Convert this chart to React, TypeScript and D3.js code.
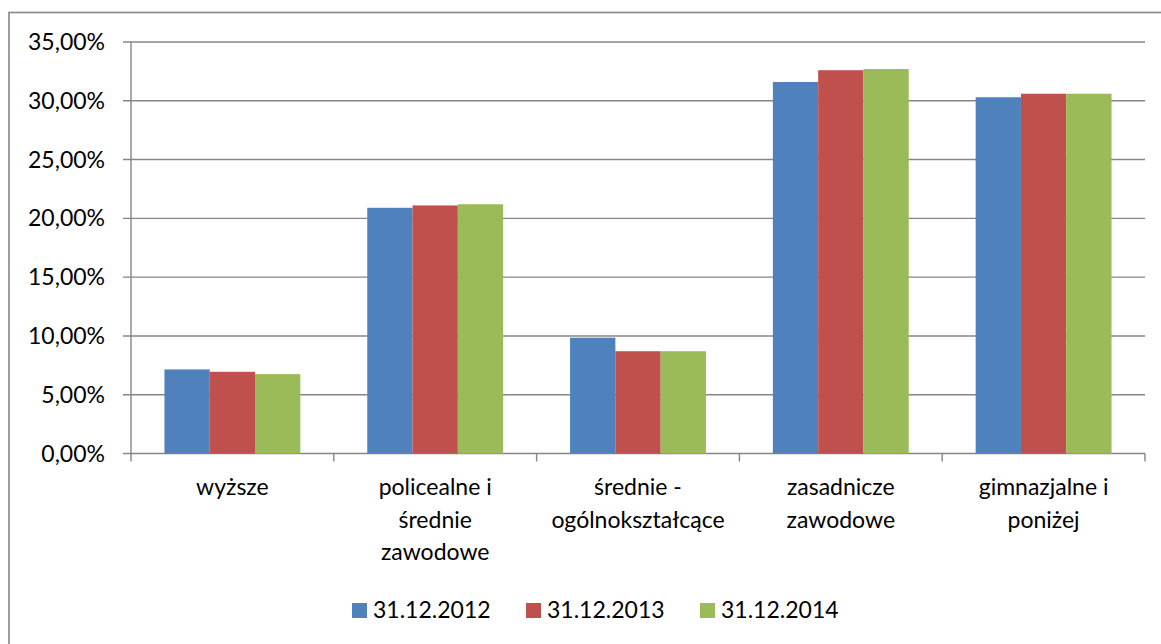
import React from 'react';
import * as d3 from 'd3';

const categories = ['wyższe', 'policealne i\nśrednie\nzawodowe', 'średnie -\nogólnokształcące', 'zasadnicze\nzawodowe', 'gimnazjalne i\nponiżej'];
const seriesNames = ['31.12.2012', '31.12.2013', '31.12.2014'];
const v2012 = [7.15, 20.9, 9.85, 31.6, 30.3];
const v2013 = [6.95, 21.1, 8.7, 32.6, 30.6];
const v2014 = [6.75, 21.2, 8.7, 32.7, 30.6];
const yTicks = [0, 5, 10, 15, 20, 25, 30, 35];
const colors = ['#4f81bd', '#c0504d', '#9bbb59'];

const W = 1161;
const H = 644;
const left = 131, right = 1145, top = 42, bottom = 453.5;
const font = 'Lato, "Open Sans", sans-serif';
const grey = '#868686';

const App = () => {
    const series = [v2012, v2013, v2014];
    const x = d3.scaleBand().domain(categories).range([left, right]);
    const bw = x.bandwidth();
    const pad = bw * 0.165;
    const xs = d3.scaleBand().domain(seriesNames).range([pad, bw - pad]);
    const y = d3.scaleLinear().domain([0, 35]).range([bottom, top]);
    const fmt = (d: number) => d.toFixed(2).replace('.', ',') + '%';

    return (
        <svg width={W} height={H} style={{ position: 'absolute', left: 0, top: 0 }} fontFamily={font}>
            <rect x={0} y={0} width={W} height={H} fill="#fff" />
            {/* outer chart border, cut off at right and bottom */}
            <rect x={9} y={12.5} width={W + 20} height={H + 20} fill="none" stroke={grey} strokeWidth={1.6} />
            {/* gridlines + y ticks */}
            {yTicks.map(t => (
                <g key={t}>
                    <line x1={left - 8} x2={right} y1={y(t)} y2={y(t)} stroke={grey} strokeWidth={1.4} />
                    <text x={105} y={y(t)} dy="0.35em" textAnchor="end" fontSize={23} fill="#000">{fmt(t)}</text>
                </g>
            ))}
            <line x1={left} x2={left} y1={top} y2={bottom} stroke={grey} strokeWidth={1.4} />
            {/* category ticks */}
            {d3.range(categories.length + 1).map(i => {
                const tx = left + i * bw;
                return <line key={i} x1={tx} x2={tx} y1={bottom} y2={bottom + 8} stroke={grey} strokeWidth={1.4} />;
            })}
            {/* bars */}
            {categories.map((c, ci) => (
                <g key={c} transform={`translate(${x(c)},0)`}>
                    {series.map((s, si) => (
                        <rect key={si} x={xs(seriesNames[si])} y={y(s[ci])} width={xs.bandwidth()}
                            height={bottom - y(s[ci])} fill={colors[si]} />
                    ))}
                </g>
            ))}
            {/* category labels */}
            {categories.map(c => (
                <text key={c} x={(x(c) as number) + bw / 2} y={495} textAnchor="middle" fontSize={23} fill="#000">
                    {c.split('\n').map((line, i) => (
                        <tspan key={i} x={(x(c) as number) + bw / 2} dy={i === 0 ? 0 : 32.5}>{line}</tspan>
                    ))}
                </text>
            ))}
            {/* legend */}
            {seriesNames.map((n, i) => (
                <g key={n} transform={`translate(${352 + i * 174},603)`}>
                    <rect x={0} y={0} width={15} height={15} fill={colors[i]} />
                    <text x={21} y={15} fontSize={23} fill="#000">{n}</text>
                </g>
            ))}
        </svg>
    );
};

export default App;
